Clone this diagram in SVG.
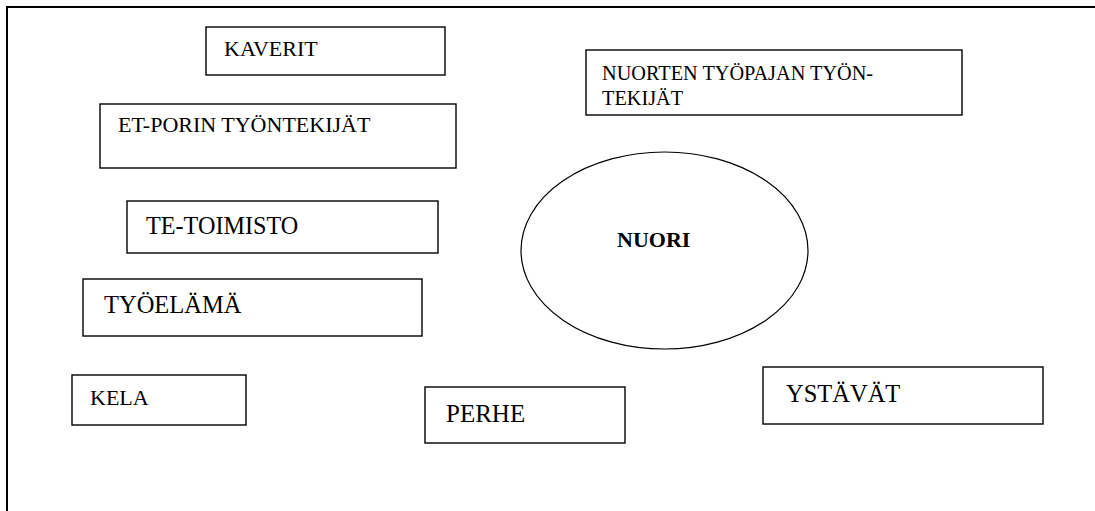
<svg xmlns="http://www.w3.org/2000/svg" width="1095" height="511" viewBox="0 0 1095 511">
<style>
.box{fill:#fff;stroke:#000;stroke-width:1.4}
.frame{fill:none;stroke:#000;stroke-width:2}
text{font-family:'Liberation Serif','Times New Roman',serif;fill:#000}
.s{font-size:22px}
.l{font-size:24.5px}
.b{font-weight:bold;font-size:22px}
</style>
<rect x="0" y="0" width="1095" height="511" fill="#fff"/>
<path class="frame" d="M7,511 V7 H1095"/>
<g id="connectors"></g>
<g id="kaverit"><rect class="box" x="206" y="27" width="239" height="48"/><text class="s" x="224" y="56">KAVERIT</text></g>
<g id="et-porin"><rect class="box" x="100" y="104" width="356" height="64"/><text class="s" x="118" y="132">ET-PORIN TYÖNTEKIJÄT</text></g>
<g id="nuorten-tyopaja"><rect class="box" x="586" y="50" width="376" height="65"/><text style="font-size:20.3px" x="602" y="80">NUORTEN TYÖPAJAN TYÖN-</text><text style="font-size:20.3px" x="602" y="105">TEKIJÄT</text></g>
<g id="te-toimisto"><rect class="box" x="127" y="201" width="311" height="52"/><text style="font-size:24.2px" x="146" y="234">TE-TOIMISTO</text></g>
<g id="nuori"><ellipse class="box" style="stroke-width:1.2" cx="664.5" cy="250.5" rx="143.5" ry="98.5"/><text class="b" x="617" y="247">NUORI</text></g>
<g id="tyoelama"><rect class="box" x="83" y="279" width="339" height="57"/><text class="l" x="104" y="313">TYÖELÄMÄ</text></g>
<g id="kela"><rect class="box" x="72" y="375" width="174" height="50"/><text class="s" x="90" y="405">KELA</text></g>
<g id="perhe"><rect class="box" x="425" y="387" width="200" height="56"/><text style="font-size:25px" x="446" y="422">PERHE</text></g>
<g id="ystavat"><rect class="box" x="763" y="367" width="280" height="57"/><text class="l" x="786" y="402">YSTÄVÄT</text></g>
</svg>
